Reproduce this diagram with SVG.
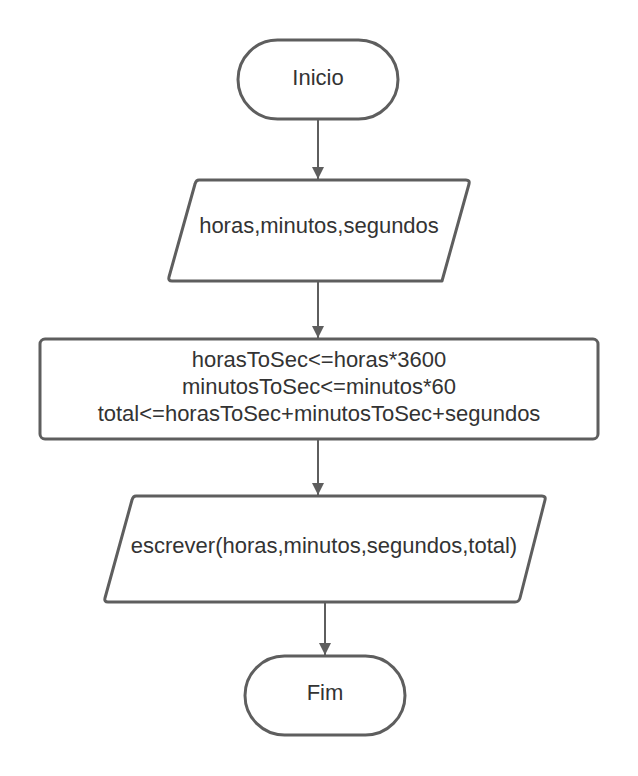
<svg xmlns="http://www.w3.org/2000/svg" width="638" height="776" viewBox="0 0 638 776">
<style>
.shape{fill:#ffffff;stroke:#5e5e5e;stroke-width:3;stroke-linejoin:round}
.conn{stroke:#5e5e5e;stroke-width:2;fill:none}
.t{font-family:"Liberation Sans",Arial,sans-serif;font-size:22px;fill:#333333;text-anchor:middle}
</style>
<defs>
<marker id="arr" viewBox="0 0 12 12" refX="12" refY="6" markerWidth="12" markerHeight="12" markerUnits="userSpaceOnUse" orient="auto">
<path d="M0,0 L12,6 L0,12 Z" fill="#5e5e5e"/>
</marker>
</defs>
<rect width="638" height="776" fill="#ffffff"/>
<g id="connectors">
<line class="conn" x1="318" y1="120" x2="318" y2="179" marker-end="url(#arr)"/>
<line class="conn" x1="318" y1="282" x2="318" y2="338" marker-end="url(#arr)"/>
<line class="conn" x1="318" y1="440" x2="318" y2="495" marker-end="url(#arr)"/>
<line class="conn" x1="325" y1="602" x2="325" y2="655" marker-end="url(#arr)"/>
</g>
<g id="inicio">
<rect class="shape" x="238" y="40" width="160" height="79" rx="39.5"/>
<text class="t" x="318" y="85">Inicio</text>
</g>
<g id="entrada">
<path class="shape" d="M199,180 L466,180 Q470,180 469,184 L442,281 L172,281 Q168,281 169,277 L195,184 Q196,180 199,180 Z"/>
<text class="t" x="319" y="233">horas,minutos,segundos</text>
</g>
<g id="processo">
<rect class="shape" x="40" y="339" width="558" height="100" rx="5"/>
<text class="t" x="319" y="367">horasToSec&lt;=horas*3600</text>
<text class="t" x="319" y="394">minutosToSec&lt;=minutos*60</text>
<text class="t" x="319" y="421">total&lt;=horasToSec+minutosToSec+segundos</text>
</g>
<g id="saida">
<path class="shape" d="M136,496 L542,496 Q546,496 545,500 L520,598 Q519,602 515,602 L108,602 Q104,602 105,598 L132,500 Q133,496 136,496 Z"/>
<text class="t" x="324" y="553">escrever(horas,minutos,segundos,total)</text>
</g>
<g id="fim">
<rect class="shape" x="245" y="656" width="160" height="79" rx="39.5"/>
<text class="t" x="325" y="700">Fim</text>
</g>
</svg>
